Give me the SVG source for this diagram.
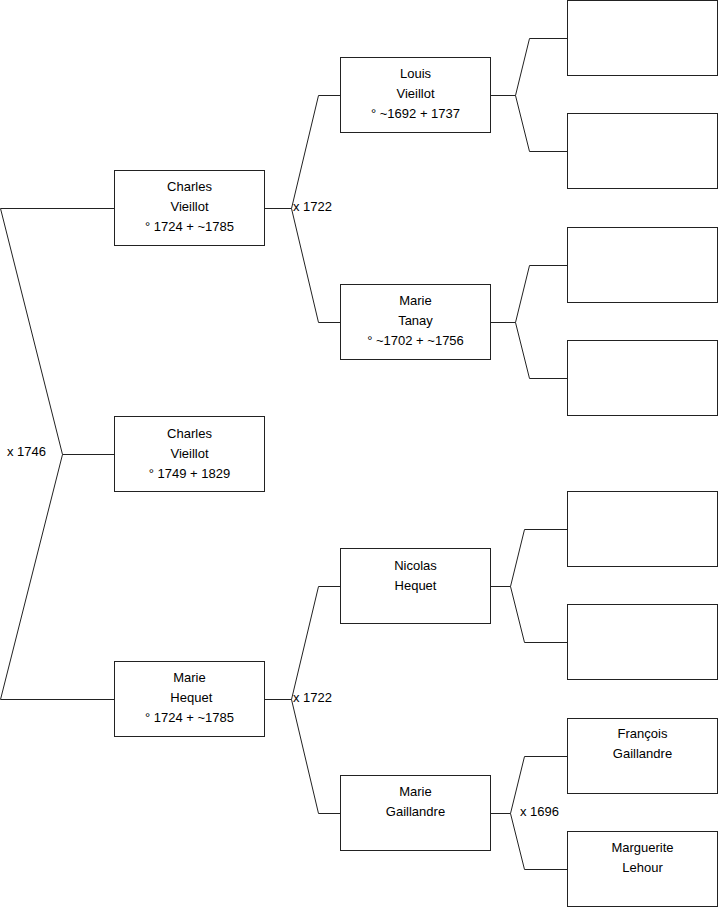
<svg xmlns="http://www.w3.org/2000/svg" width="719" height="908" viewBox="0 0 719 908">
<style>
.box{fill:#fff;stroke:#222;stroke-width:1}
.ln{fill:none;stroke:#222;stroke-width:1}
text{font-family:"Liberation Sans",Arial,sans-serif;font-size:13px;fill:#000}
.c{text-anchor:middle}
</style>
<rect width="719" height="908" fill="#fff"/>
<g id="connectors">
<polyline class="ln" points="114,208.5 0.5,208.5 62.5,454.5 0.5,699.5 114,699.5"/>
<line class="ln" x1="62.5" y1="454.5" x2="114" y2="454.5"/>
<polyline class="ln" points="340,95.5 318.5,95.5 291.5,208.5 318.5,322.5 340,322.5"/>
<line class="ln" x1="265" y1="208.5" x2="291.5" y2="208.5"/>
<polyline class="ln" points="340,586.5 318.5,586.5 291.5,699.5 318.5,813.5 340,813.5"/>
<line class="ln" x1="265" y1="699.5" x2="291.5" y2="699.5"/>
<polyline class="ln" points="567,38.5 529.5,38.5 515.5,95.5 529.5,151.5 567,151.5"/>
<line class="ln" x1="491" y1="95.5" x2="515.5" y2="95.5"/>
<polyline class="ln" points="567,265.5 529.5,265.5 515.5,322.5 529.5,378.5 567,378.5"/>
<line class="ln" x1="491" y1="322.5" x2="515.5" y2="322.5"/>
<polyline class="ln" points="567,529.5 524.5,529.5 510.5,586.5 524.5,642.5 567,642.5"/>
<line class="ln" x1="491" y1="586.5" x2="510.5" y2="586.5"/>
<polyline class="ln" points="567,756.5 524.5,756.5 510.5,813.5 524.5,869.5 567,869.5"/>
<line class="ln" x1="491" y1="813.5" x2="510.5" y2="813.5"/>
<text x="7" y="456">x 1746</text>
<text x="293" y="211">x 1722</text>
<text x="293" y="702">x 1722</text>
<text x="520" y="816">x 1696</text>
</g>
<g id="n-charles-father">
<rect class="box" x="114.5" y="170.5" width="150" height="75"/>
<text class="c" x="189.5" y="191">Charles</text>
<text class="c" x="189.5" y="211">Vieillot</text>
<text class="c" x="189.5" y="231">° 1724 + ~1785</text>
</g>
<g id="n-charles-child">
<rect class="box" x="114.5" y="416.5" width="150" height="75"/>
<text class="c" x="189.5" y="437.5">Charles</text>
<text class="c" x="189.5" y="457.5">Vieillot</text>
<text class="c" x="189.5" y="477.5">° 1749 + 1829</text>
</g>
<g id="n-marie-hequet">
<rect class="box" x="114.5" y="661.5" width="150" height="75"/>
<text class="c" x="189.5" y="682">Marie</text>
<text class="c" x="191.3" y="702">Hequet</text>
<text class="c" x="189.5" y="722">° 1724 + ~1785</text>
</g>
<g id="n-louis">
<rect class="box" x="340.5" y="57.5" width="150" height="75"/>
<text class="c" x="415.5" y="78">Louis</text>
<text class="c" x="415.5" y="98">Vieillot</text>
<text class="c" x="415.5" y="118">° ~1692 + 1737</text>
</g>
<g id="n-marie-tanay">
<rect class="box" x="340.5" y="284.5" width="150" height="75"/>
<text class="c" x="415.5" y="305">Marie</text>
<text class="c" x="415.5" y="325">Tanay</text>
<text class="c" x="415.5" y="345">° ~1702 + ~1756</text>
</g>
<g id="n-nicolas">
<rect class="box" x="340.5" y="548.5" width="150" height="75"/>
<text class="c" x="415.5" y="569.5">Nicolas</text>
<text class="c" x="415.5" y="589.5">Hequet</text>
</g>
<g id="n-marie-gaillandre">
<rect class="box" x="340.5" y="775.5" width="150" height="75"/>
<text class="c" x="415.5" y="796">Marie</text>
<text class="c" x="415.5" y="816">Gaillandre</text>
</g>
<g id="n-r1"><rect class="box" x="567.5" y="0.5" width="150" height="75"/></g>
<g id="n-r2"><rect class="box" x="567.5" y="113.5" width="150" height="75"/></g>
<g id="n-r3"><rect class="box" x="567.5" y="227.5" width="150" height="75"/></g>
<g id="n-r4"><rect class="box" x="567.5" y="340.5" width="150" height="75"/></g>
<g id="n-r5"><rect class="box" x="567.5" y="491.5" width="150" height="75"/></g>
<g id="n-r6"><rect class="box" x="567.5" y="604.5" width="150" height="75"/></g>
<g id="n-francois">
<rect class="box" x="567.5" y="718.5" width="150" height="75"/>
<text class="c" x="642.5" y="738">François</text>
<text class="c" x="642.5" y="758">Gaillandre</text>
</g>
<g id="n-marguerite">
<rect class="box" x="567.5" y="831.5" width="150" height="75"/>
<text class="c" x="642.5" y="852">Marguerite</text>
<text class="c" x="642.5" y="872">Lehour</text>
</g>
</svg>
